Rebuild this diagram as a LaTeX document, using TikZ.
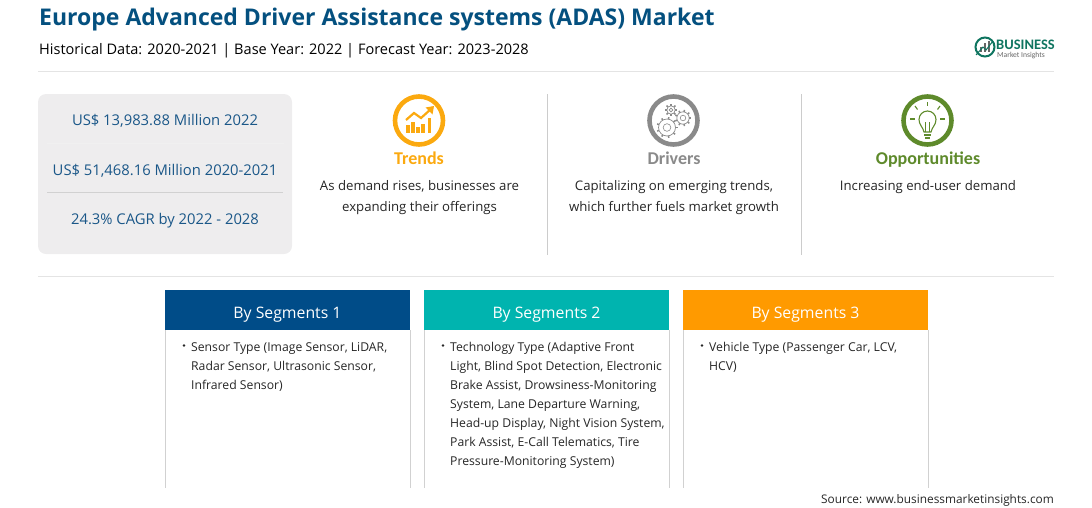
\documentclass[tikz,border=0pt]{standalone}
\usepackage{fontspec}
\setmainfont{Open Sans}
\newfontfamily\iconfont{Carlito}
\usetikzlibrary{positioning}
\definecolor{titleblue}{HTML}{04507F}
\definecolor{statblue}{HTML}{1A5788}
\definecolor{panelgrey}{HTML}{EEEDEE}
\definecolor{ruleline}{HTML}{E4E4E4}
\definecolor{trendorange}{HTML}{FBA90F}
\definecolor{drivergrey}{HTML}{8A8A8A}
\definecolor{oppgreen}{HTML}{5E8A2B}
\definecolor{segnavy}{HTML}{004C88}
\definecolor{segteal}{HTML}{00B4AF}
\definecolor{segorange}{HTML}{FF9A00}
\definecolor{logogreen}{HTML}{0F7560}
\tikzset{
  stat/.style={anchor=base, inner sep=0pt, font=\fontsize{14.8}{17}\selectfont, text=statblue},
  iconlabel/.style={anchor=base, inner sep=0pt, font=\iconfont\bfseries\fontsize{18}{20}\selectfont},
  blurb/.style={anchor=north, inner sep=0pt, font=\fontsize{13.2}{21.5}\selectfont, align=center, text=black!85},
  seghead/.style={minimum width=245pt, inner sep=0pt, text height=28pt, text depth=12pt, text=white,
    font=\fontsize{15.8}{18}\selectfont},
  segtext/.style={font=\fontsize{12.2}{19}\selectfont, align=left, anchor=north west,
    inner sep=0pt, text=black!85},
  bullet/.style={circle, fill=black!85, inner sep=0pt, minimum size=2.6pt}
}
\begin{document}
\begin{tikzpicture}[x=1pt,y=-1pt]
  \useasboundingbox (0,0) rectangle (1092,507);

  % Cabecera
  \node[anchor=base west, inner sep=0pt, text=titleblue, font=\bfseries\fontsize{23}{26}\selectfont]
    (title) at (39,25) {Europe Advanced Driver Assistance systems (ADAS) Market};
  \node[anchor=base west, inner sep=0pt, font=\fontsize{14.55}{17}\selectfont]
    (years) at (39,54) {Historical Data: 2020-2021 | Base Year: 2022 | Forecast Year: 2023-2028};
  \draw [ruleline] (38,71) -- (1054,71);

  % Logo
  \draw [logogreen, line width=2pt] (985,47) circle (9.5);
  \fill [gray!80!black] (980,52) rectangle (982,47);
  \fill [gray!80!black] (984,52) rectangle (986,43);
  \fill [gray!80!black] (988,52) rectangle (990,41);
  \draw [logogreen, line width=1pt] (976,55) -- (983,47) -- (986,50) -- (993,41);
  \node[anchor=base west, inner sep=0pt, text=logogreen, font=\iconfont\bfseries\fontsize{14.5}{15}\selectfont]
    (logoname) at (996,49) {BUSINESS};
  \node[anchor=base west, inner sep=0pt, text=gray!80!black, font=\iconfont\fontsize{7.6}{9}\selectfont]
    (logosub) at (997,57) {Market Insights};

  % Panel de cifras
  \fill [panelgrey, rounded corners=8pt] (38,94) rectangle (292,254);
  \draw [black!6] (47,143) -- (284,143);
  \draw [black!18] (47,192) -- (283,192);
  \node[stat] (statA) at (165,125) {US\$ 13,983.88 Million 2022};
  \node[stat] (statB) at (165,175) {US\$ 51,468.16 Million 2020-2021};
  \node[stat] (statC) at (165,224) {24.3\% CAGR by 2022 - 2028};

  % Separadores
  \draw [black!20] (547,94) -- (547,255);
  \draw [black!20] (801,94) -- (801,255);
  \draw [ruleline] (38,276) -- (1054,276);

  % Tendencias
  \draw [trendorange, line width=4.6pt] (419,120.5) circle (24);
  \foreach \px/\py in {408/125, 413/122, 418/127, 423/124, 429.5/118}
    \fill [trendorange] (\px-1.9,133) rectangle (\px+1.9,\py);
  \draw [trendorange, line width=2.2pt] (406,120) -- (414,113) -- (421,118) -- (431,109);
  \fill [trendorange] (434,106) -- (425.5,107.5) -- (432.5,114.5) -- cycle;
  \node[iconlabel, text=trendorange] (trends) at (419,164) {Trends};
  \node[blurb] (trendstext) at (419.5,180) {As demand rises, businesses are\\expanding their offerings};

  % Impulsores
  \draw [drivergrey, line width=4.6pt] (673.5,120.5) circle (24);
  \foreach \gx/\gy/\gr/\gn in {667/127.5/8.5/9, 683/118/6.2/9, 671/110/4.2/8} {
    \draw [drivergrey, line width=0.6pt] (\gx,\gy) circle (\gr*0.45);
    \draw [drivergrey, line width=0.7pt] (\gx,\gy) circle (\gr);
    \foreach \k in {1,...,\gn}
      \draw [drivergrey, line width=1.5pt] (\gx,\gy) ++(\k*360/\gn:\gr) -- ++(\k*360/\gn:2);
  }
  \node[iconlabel, text=drivergrey] (drivers) at (674,164) {Drivers};
  \node[blurb] (driverstext) at (674,180) {Capitalizing on emerging trends,\\which further fuels market growth};

  % Oportunidades
  \draw [oppgreen, line width=4.6pt] (927.5,120.5) circle (24);
  \draw [oppgreen, line width=1.1pt] (924,132) .. controls (923,127) and (919,125) .. (919,119.5)
    arc (180:360:8.5) .. controls (936,125) and (932,127) .. (931,132) -- cycle;
  \draw [oppgreen, line width=0.8pt] (925.5,132) -- (925.5,122) (929.5,132) -- (929.5,122);
  \fill [oppgreen] (924,133.5) rectangle (931,135.5);
  \fill [oppgreen] (925,136.5) rectangle (930,139);
  \draw [oppgreen, line width=1.1pt] (927.5,102) -- (927.5,106);
  \draw [oppgreen, line width=1.1pt] (915,106) -- (917.5,109.5);
  \draw [oppgreen, line width=1.1pt] (940,106) -- (937.5,109.5);
  \draw [oppgreen, line width=1.1pt] (910,119) -- (915,119);
  \draw [oppgreen, line width=1.1pt] (940,119) -- (945,119);
  \node[iconlabel, text=oppgreen] (opps) at (928,164) {Opportunities};
  \node[blurb] (oppstext) at (928,180) {Increasing end-user demand};

  % Segmentos
  \draw [black!18] (165,330) -- (165,488);
  \draw [black!18] (410,330) -- (410,488);
  \draw [black!18] (424,330) -- (424,488);
  \draw [black!18] (669,330) -- (669,488);
  \draw [black!18] (683,330) -- (683,488);
  \draw [black!18] (928,330) -- (928,488);
  \node[seghead, fill=segnavy] (segA) at (287.5,310) {By Segments 1};
  \node[seghead, fill=segteal] (segB) at (546.5,310) {By Segments 2};
  \node[seghead, fill=segorange] (segC) at (805.5,310) {By Segments 3};

  \node[bullet] (dotA) at (184,345.5) {};
  \node[segtext] (listA) at (191,342) {Sensor Type (Image Sensor, LiDAR,\\Radar Sensor, Ultrasonic Sensor,\\Infrared Sensor)};
  \node[bullet] (dotB) at (443,345.5) {};
  \node[segtext] (listB) at (450,342) {Technology Type (Adaptive Front\\Light, Blind Spot Detection, Electronic\\Brake Assist, Drowsiness-Monitoring\\System, Lane Departure Warning,\\Head-up Display, Night Vision System,\\Park Assist, E-Call Telematics, Tire\\Pressure-Monitoring System)};
  \node[bullet] (dotC) at (702,345.5) {};
  \node[segtext] (listC) at (709,342) {Vehicle Type (Passenger Car, LCV,\\HCV)};

  % Fuente
  \node[anchor=base east, inner sep=0pt, font=\fontsize{11.85}{14}\selectfont, text=black!85]
    (source) at (1054,503) {Source: www.businessmarketinsights.com};
\end{tikzpicture}
\end{document}
